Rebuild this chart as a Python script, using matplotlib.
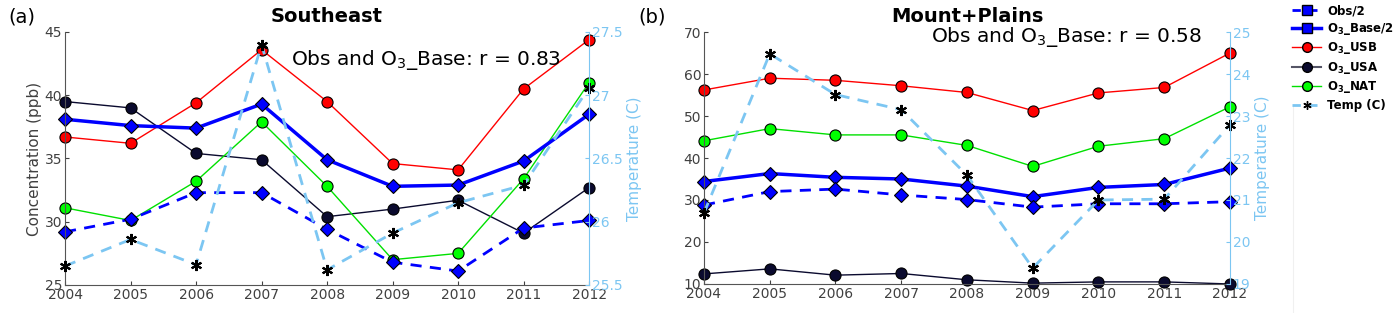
import numpy as np
import matplotlib.pyplot as plt
from matplotlib.lines import Line2D

years = [2004, 2005, 2006, 2007, 2008, 2009, 2010, 2011, 2012]

# Southeast
se_obs = [29.2, 30.2, 32.3, 32.3, 29.4, 26.8, 26.1, 29.5, 30.1]
se_base = [38.1, 37.6, 37.4, 39.3, 34.9, 32.8, 32.9, 34.8, 38.5]
se_usb = [36.7, 36.2, 39.4, 43.6, 39.5, 34.6, 34.1, 40.5, 44.4]
se_usa = [39.5, 39.0, 35.4, 34.9, 30.4, 31.0, 31.7, 29.1, 32.7]
se_nat = [31.1, 30.1, 33.2, 37.9, 32.8, 27.0, 27.5, 33.4, 41.0]
se_temp = [25.65, 25.86, 25.66, 27.40, 25.62, 25.91, 26.15, 26.29, 27.06]

# Mount+Plains
mp_obs = [28.8, 32.0, 32.6, 31.2, 30.1, 28.3, 29.1, 29.1, 29.6]
mp_base = [34.4, 36.3, 35.4, 35.0, 33.3, 30.8, 33.0, 33.7, 37.6]
mp_usb = [56.2, 59.0, 58.5, 57.2, 55.6, 51.3, 55.5, 56.8, 65.0]
mp_usa = [12.4, 13.6, 12.1, 12.5, 11.0, 10.2, 10.5, 10.5, 10.0]
mp_nat = [44.1, 47.0, 45.5, 45.5, 43.0, 38.0, 42.8, 44.6, 52.2]
mp_temp = [20.69, 24.48, 23.51, 23.15, 21.59, 19.38, 21.0, 21.02, 22.79]

panels = [
    dict(tag='(a)', title='Southeast', r='0.83', obs=se_obs, base=se_base, usb=se_usb,
         usa=se_usa, nat=se_nat, temp=se_temp, ylim=(25, 45), yticks=[25, 30, 35, 40, 45],
         tlim=(25.5, 27.5), tticks=[25.5, 26, 26.5, 27, 27.5], ry=0.89, tx=0.006),
    dict(tag='(b)', title='Mount+Plains', r='0.58', obs=mp_obs, base=mp_base, usb=mp_usb,
         usa=mp_usa, nat=mp_nat, temp=mp_temp, ylim=(10, 70), yticks=list(range(10, 71, 10)),
         tlim=(19, 25), tticks=list(range(19, 26)), ry=0.98, tx=0.456),
]

gray = '#404040'
tblue = '#7cc6f2'
navy = '#0a0a2e'

fig = plt.figure(figsize=(13.99, 3.13), dpi=100)
rects = [[0.0465, 0.0895, 0.3746, 0.8083], [0.5032, 0.0927, 0.376, 0.805]]

for i, (p, rect) in enumerate(zip(panels, rects)):
    ax = fig.add_axes(rect)
    mk = dict(markeredgecolor='black', markeredgewidth=0.8, clip_on=False)
    ax.plot(years, p['usb'], '-o', color='red', lw=1, ms=8, markerfacecolor='red', **mk)
    ax.plot(years, p['usa'], '-o', color=navy, lw=1, ms=8, markerfacecolor=navy, **mk)
    ax.plot(years, p['nat'], '-o', color='#00e000', lw=1, ms=8, markerfacecolor='#00ff00', **mk)
    ax.plot(years, p['base'], '-D', color='blue', lw=2.5, ms=7, markerfacecolor='blue', **mk)
    ax.plot(years, p['obs'], '--D', color='blue', lw=2, ms=7, markerfacecolor='blue',
            dashes=(4, 3), **mk)
    ax.set_xlim(2004, 2012)
    ax.set_ylim(*p['ylim'])
    ax.set_xticks(years)
    ax.set_yticks(p['yticks'])
    ax.tick_params(direction='in', length=3, colors=gray, labelsize=10, pad=2)
    for s in ['top', 'right']:
        ax.spines[s].set_visible(False)
    for s in ['left', 'bottom']:
        ax.spines[s].set_color('#555555')
    if i == 0:
        ax.set_ylabel('Concentration (ppb)', color=gray, fontsize=11, labelpad=2)
    ax.set_title(p['title'], fontsize=14, fontweight='bold', pad=7)

    ax2 = ax.twinx()
    ax2.plot(years, p['temp'], '--', color=tblue, lw=2, dashes=(4, 3), clip_on=False)
    ax2.plot(years, p['temp'], linestyle='none', marker=(6, 2, 0), color='black',
             ms=8, mew=1.5, clip_on=False)
    ax2.set_ylim(*p['tlim'])
    ax2.set_yticks(p['tticks'])
    ax2.set_yticklabels([('%g' % t) for t in p['tticks']])
    ax2.tick_params(direction='in', length=3, colors=tblue, labelsize=10, pad=2)
    for s in ['top', 'left', 'bottom']:
        ax2.spines[s].set_visible(False)
    ax2.spines['right'].set_color(tblue)
    ax2.set_ylabel('Temperature (C)', color=tblue, fontsize=11, labelpad=3)

    ax.text(0.947, p['ry'], 'Obs and O$_3$_Base: r = ' + p['r'],
            transform=ax.transAxes, ha='right', va='center', fontsize=14.5)
    fig.text(p['tx'], 0.945, p['tag'], fontsize=14, va='center', ha='left')

handles = [
    Line2D([], [], color='blue', ls='--', lw=2, marker='s', ms=7, mfc='blue', mec='black', dashes=(3, 3)),
    Line2D([], [], color='blue', ls='-', lw=2.5, marker='s', ms=7, mfc='blue', mec='black'),
    Line2D([], [], color='red', ls='-', lw=1, marker='o', ms=7, mfc='red', mec='black'),
    Line2D([], [], color='#555566', ls='-', lw=1.5, marker='o', ms=7, mfc=navy, mec='black'),
    Line2D([], [], color='#00e000', ls='-', lw=1, marker='o', ms=7, mfc='#00ff00', mec='black'),
    Line2D([], [], color=tblue, ls='--', lw=2, marker=(6, 2, 0), ms=6, mfc='black', mec='black', dashes=(3, 3)),
]
labels = ['Obs/2', r'O$_\mathbf{3}$_Base/2', r'O$_\mathbf{3}$_USB', r'O$_\mathbf{3}$_USA',
          r'O$_\mathbf{3}$_NAT', 'Temp (C)']
fig.legend(handles, labels, loc='upper left', bbox_to_anchor=(0.9225, 0.99), frameon=False,
           prop=dict(size=8.5, weight='bold'), handlelength=2.5, labelspacing=0.3,
           handletextpad=0.5, borderaxespad=0, borderpad=0.1)

fig.add_artist(Line2D([0.9245, 0.9245], [0.0, 0.66], transform=fig.transFigure,
                      color='#f0f0f0', lw=0.8))

fig.savefig('out.png', dpi=100)
